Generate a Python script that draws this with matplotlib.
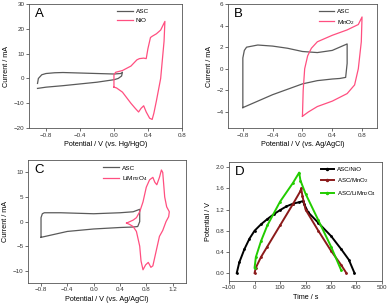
import matplotlib
matplotlib.use('Agg')
import matplotlib.pyplot as plt

plt.rcParams['font.family'] = ['Liberation Sans', 'DejaVu Sans']
plt.rcParams['mathtext.fontset'] = 'custom'
plt.rcParams['mathtext.rm'] = 'Liberation Sans'

# ---- panel A: ASC vs NiO (Hg/HgO)
a_asc_x = [-0.9, -0.89, -0.85, -0.8, -0.7, -0.6, -0.4, -0.2, 0.0, 0.08, 0.1, 0.09, 0.05, 0.0, -0.2, -0.4, -0.6, -0.8, -0.9]
a_asc_y = [-2.0, 0.0, 1.5, 2.0, 2.3, 2.4, 2.2, 2.0, 1.8, 2.0, 2.5, 1.0, 0.0, -0.5, -1.5, -2.2, -2.9, -3.5, -4.0]
a_nio_x = [0.0, 0.0, 0.02, 0.1, 0.2, 0.27, 0.3, 0.35, 0.38, 0.4, 0.43, 0.45, 0.5, 0.55, 0.6,
           0.59, 0.55, 0.5, 0.47, 0.45, 0.42, 0.38, 0.35, 0.32, 0.29, 0.25, 0.2, 0.1, 0.03, 0.0]
a_nio_y = [-3.5, 1.5, 2.5, 3.2, 5.0, 7.5, 8.0, 8.2, 8.0, 12.0, 16.5, 17.0, 18.0, 19.5, 23.0,
           15.0, 0.0, -9.0, -14.0, -16.5, -16.0, -13.5, -11.0, -12.0, -13.5, -12.0, -10.0, -5.5, -3.8, -3.5]

# ---- panel B: ASC vs MnO2 (Ag/AgCl)
b_asc_x = [-0.8, -0.8, -0.78, -0.75, -0.6, -0.4, -0.2, 0.0, 0.2, 0.4, 0.6, 0.6, 0.58, 0.5, 0.4, 0.2, 0.0, -0.2, -0.4, -0.6, -0.8]
b_asc_y = [-3.6, 1.0, 1.7, 2.0, 2.2, 2.1, 1.9, 1.6, 1.5, 1.7, 2.3, 0.5, -0.8, -0.9, -0.95, -1.1, -1.4, -1.9, -2.4, -3.0, -3.6]
b_mno_x = [0.0, 0.01, 0.03, 0.07, 0.12, 0.2, 0.4, 0.6, 0.75, 0.8, 0.79, 0.75, 0.7, 0.6, 0.4, 0.2, 0.08, 0.0]
b_mno_y = [-4.4, -2.0, 0.0, 1.2, 1.9, 2.5, 3.1, 3.6, 4.1, 4.8, 2.5, 0.0, -1.5, -2.3, -3.0, -3.5, -4.0, -4.4]

# ---- panel C: ASC vs LiMn2O4 (Ag/AgCl)
c_asc_x = [-0.8, -0.8, -0.78, -0.75, -0.5, 0.0, 0.4, 0.6, 0.7, 0.7, 0.67, 0.6, 0.4, 0.0, -0.4, -0.8]
c_asc_y = [-3.2, 0.8, 1.6, 1.8, 1.8, 1.6, 1.8, 2.0, 2.5, 0.0, -1.0, -1.1, -1.2, -1.5, -2.0, -3.2]
c_lmo_x = [0.5, 0.55, 0.6, 0.65, 0.7, 0.75, 0.8, 0.85, 0.9, 0.93, 0.96, 1.0, 1.03, 1.05, 1.08, 1.11, 1.15,
           1.14, 1.1, 1.05, 1.0, 0.95, 0.9, 0.87, 0.83, 0.79, 0.75, 0.72, 0.7, 0.65, 0.6, 0.55, 0.5]
c_lmo_y = [-0.3, 0.0, 0.3, 0.8, 2.0, 4.0, 7.0, 8.5, 9.0, 8.0, 7.5, 9.0, 10.5, 10.0, 5.0, 3.0, 2.0,
           1.0, 0.0, -1.8, -3.0, -6.0, -9.0, -9.3, -8.3, -8.8, -9.8, -8.0, -5.0, -2.0, -1.0, -0.6, -0.3]

# ---- panel D: galvanostatic charge/discharge
d_nio_t = [-70, -60, -40, -20, 0, 25, 50, 75, 100, 125, 150, 175, 190, 195, 210, 250, 300, 340, 370, 392]
d_nio_v = [0.0, 0.2, 0.45, 0.65, 0.8, 0.92, 1.02, 1.11, 1.19, 1.26, 1.31, 1.34, 1.36, 1.3, 1.15, 0.95, 0.7, 0.45, 0.25, 0.0]
d_mno_t = [0, 5, 25, 50, 100, 150, 180, 183, 188, 200, 250, 300, 340, 360]
d_mno_v = [0.0, 0.1, 0.3, 0.5, 0.9, 1.3, 1.55, 1.6, 1.45, 1.2, 0.8, 0.42, 0.15, 0.0]
d_lmo_t = [0, 5, 25, 50, 100, 150, 175, 180, 200, 250, 300, 340]
d_lmo_v = [0.1, 0.3, 0.6, 0.9, 1.35, 1.7, 1.9, 1.75, 1.5, 1.0, 0.5, 0.05]

gray = '#5a5a5a'
pink = '#ff4f80'

fig = plt.figure(figsize=(3.87, 3.08), dpi=100)
axA = fig.add_axes([0.075, 0.584, 0.395, 0.403])
axB = fig.add_axes([0.589, 0.584, 0.385, 0.403])
axC = fig.add_axes([0.072, 0.081, 0.408, 0.399])
axD = fig.add_axes([0.592, 0.088, 0.395, 0.386])

def style(ax, letter, xlabel, ylabel):
    ax.tick_params(labelsize=4.5, length=2, width=0.5, pad=1.2, colors='#333333')
    for s in ax.spines.values():
        s.set_linewidth(0.6)
        s.set_color('#555555')
    ax.set_xlabel(xlabel, fontsize=5.2, labelpad=2.5)
    ax.set_ylabel(ylabel, fontsize=5.2, labelpad=2.5)
    ax.text(0.04, 0.965, letter, transform=ax.transAxes, fontsize=9.5, va='top', ha='left')

lw = 0.9
axA.plot(a_asc_x, a_asc_y, color=gray, lw=lw, label='ASC')
axA.plot(a_nio_x, a_nio_y, color=pink, lw=lw, label='NiO')
axA.set_xlim(-1.0, 0.8)
axA.set_ylim(-20, 30)
axA.set_xticks([-0.8, -0.4, 0.0, 0.4, 0.8])
axA.set_yticks([-20, -10, 0, 10, 20, 30])
style(axA, 'A', 'Potential / V (vs. Hg/HgO)', 'Current / mA')

axB.plot(b_asc_x, b_asc_y, color=gray, lw=lw, label='ASC')
axB.plot(b_mno_x, b_mno_y, color=pink, lw=lw, label='MnO$_2$')
axB.set_xlim(-1.0, 1.0)
axB.set_ylim(-5.5, 6)
axB.set_xticks([-0.8, -0.4, 0.0, 0.4, 0.8])
axB.set_yticks([-4, -2, 0, 2, 4, 6])
style(axB, 'B', 'Potential / V (vs. Ag/AgCl)', 'Current / mA')

axC.plot(c_asc_x, c_asc_y, color=gray, lw=lw, label='ASC')
axC.plot(c_lmo_x, c_lmo_y, color=pink, lw=lw, label='LiMn$_2$O$_4$')
axC.set_xlim(-1.0, 1.4)
axC.set_ylim(-12.5, 12.5)
axC.set_xticks([-0.8, -0.4, 0.0, 0.4, 0.8, 1.2])
axC.set_yticks([-10, -5, 0, 5, 10])
style(axC, 'C', 'Potential / V (vs. Ag/AgCl)', 'Current / mA')

axD.plot(d_nio_t, d_nio_v, color='black', lw=1.4, marker='o', ms=1, label='ASC/NiO')
axD.plot(d_mno_t, d_mno_v, color='#8b1a1a', lw=1.4, marker='o', ms=1, label='ASC/MnO$_2$')
axD.plot(d_lmo_t, d_lmo_v, color='#22cc00', lw=1.4, marker='o', ms=1, label='ASC/LiMn$_2$O$_4$')
axD.set_xlim(-100, 500)
axD.set_ylim(-0.15, 2.1)
axD.set_xticks([-100, 0, 100, 200, 300, 400, 500])
axD.set_yticks([0.0, 0.4, 0.8, 1.2, 1.6, 2.0])
style(axD, 'D', 'Time / s', 'Potential / V')

for ax, x0 in ((axA, 0.57), (axB, 0.6), (axC, 0.47)):
    ax.legend(loc='upper left', bbox_to_anchor=(x0, 0.97), fontsize=4.6, frameon=False,
              handlelength=2.4, handletextpad=0.5, borderaxespad=0, borderpad=0.2,
              labelspacing=0.5)
axD.legend(loc='upper left', bbox_to_anchor=(0.59, 0.97), fontsize=4.4, frameon=False,
           handlelength=2.2, handletextpad=0.5, borderaxespad=0, borderpad=0.2,
           labelspacing=0.7, markerscale=1.5)

fig.savefig('out.png', dpi=100)
